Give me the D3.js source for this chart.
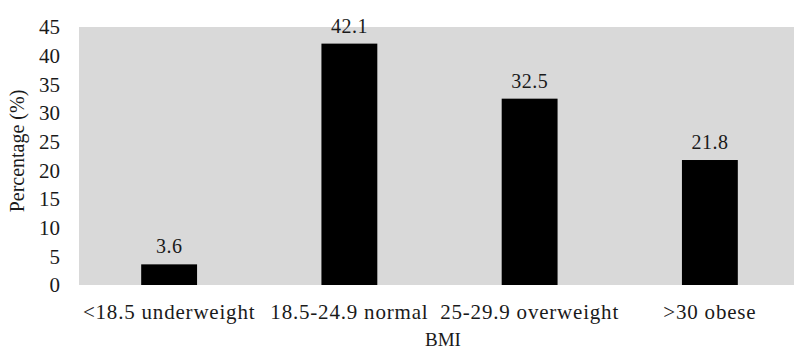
<!DOCTYPE html>
<html><head><meta charset="utf-8">
<script src="https://cdn.jsdelivr.net/npm/d3@7"></script>
<style>
body{margin:0;background:#fff;}
text{font-family:"Liberation Serif","Times New Roman",serif;fill:#1a1a1a;}
</style></head>
<body>
<svg id="chart" width="794" height="352"></svg>
<script>
const categories = ["<18.5 underweight", "18.5-24.9 normal", "25-29.9 overweight", ">30 obese"];
const values = [3.6, 42.1, 32.5, 21.8];
const valueLabels = ["3.6", "42.1", "32.5", "21.8"];
const yTicks = [0, 5, 10, 15, 20, 25, 30, 35, 40, 45];
const xTitle = "BMI";
const yTitle = "Percentage (%)";

const svg = d3.select("#chart");
const m = {left: 79, top: 27, right: -6, bottom: 67};
const W = 794, H = 352;
const iw = W - m.left - m.right, ih = H - m.top - m.bottom;
const g = svg.append("g").attr("transform", `translate(${m.left},${m.top})`);

const x = d3.scaleBand().domain(categories).range([0, iw]).paddingInner(0.69).paddingOuter(0.345);
const y = d3.scaleLinear().domain([0, 45]).range([ih, 0]);

g.append("rect").attr("x", 0).attr("y", 0).attr("width", iw).attr("height", ih).attr("fill", "#d9d9d9");

g.selectAll("rect.bar").data(values).join("rect").attr("class", "bar")
  .attr("x", (d, i) => x(categories[i]))
  .attr("y", d => y(d))
  .attr("width", x.bandwidth())
  .attr("height", d => y(0) - y(d))
  .attr("fill", "#000");

g.selectAll("text.val").data(values).join("text").attr("class", "val")
  .attr("x", (d, i) => x(categories[i]) + x.bandwidth() / 2)
  .attr("y", d => y(d) - 11)
  .attr("text-anchor", "middle")
  .style("font-size", "20px").style("letter-spacing", "0.5px")
  .text((d, i) => valueLabels[i]);

const yAxis = g.append("g").call(d3.axisLeft(y).tickValues(yTicks).tickSize(0).tickPadding(19));
yAxis.select(".domain").remove();
yAxis.selectAll("text").style("font-size", "21px").style("font-family", "Liberation Serif").attr("fill", "#1a1a1a");

const xAxis = g.append("g").attr("transform", `translate(0,${ih})`)
  .call(d3.axisBottom(x).tickSize(0).tickPadding(20));
xAxis.select(".domain").remove();
xAxis.selectAll("text").style("font-size", "21px").style("letter-spacing", "0.8px")
  .style("font-family", "Liberation Serif").attr("fill", "#1a1a1a").attr("dy", "0.35em").attr("y", 27);

svg.append("text").attr("x", 443).attr("y", 346).attr("text-anchor", "middle")
  .style("font-size", "19px").text(xTitle);

svg.append("text").attr("transform", `translate(24,${m.top + ih / 2 - 5}) rotate(-90)`)
  .attr("text-anchor", "middle").style("font-size", "20px").text(yTitle);
</script>
</body></html>
